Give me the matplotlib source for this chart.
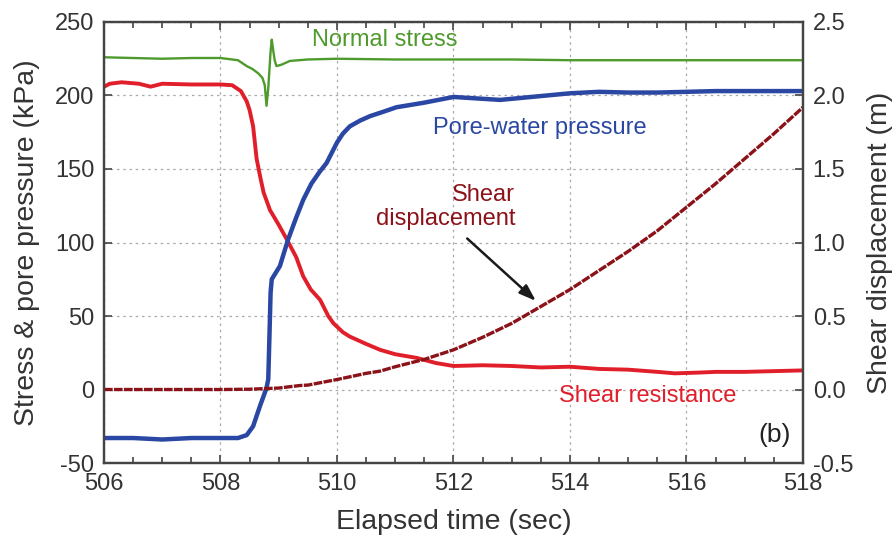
import matplotlib.pyplot as plt
from matplotlib.ticker import MultipleLocator

plt.rcParams['font.family'] = ['Liberation Sans', 'DejaVu Sans']
plt.rcParams['axes.unicode_minus'] = False

# Normal stress (kPa)
t_normal = [506.0, 506.5, 507.0, 507.5, 508.0, 508.3, 508.45, 508.55, 508.65, 508.72,
            508.76, 508.79, 508.82, 508.86, 508.88, 508.9, 508.93, 508.96, 509.05, 509.19,
            509.5, 510.0, 511.0, 512.0, 513.0, 514.0, 515.0, 516.0, 517.0, 518.0]
normal_stress = [226, 225.5, 225, 225.5, 225.5, 224, 220, 218, 215, 212,
                 207, 193, 205, 230, 238, 232, 224, 220, 221, 223.5,
                 224.5, 225, 224.5, 224.5, 224.5, 224, 224, 224, 224, 224]

# Shear resistance (kPa)
t_shear = [506.0, 506.1, 506.3, 506.6, 506.8, 507.0, 507.5, 508.0, 508.2, 508.35,
           508.45, 508.5, 508.56, 508.62, 508.68, 508.74, 508.85, 509.0, 509.14, 509.3,
           509.42, 509.55, 509.71, 509.85, 509.94, 510.1, 510.22, 510.5, 510.74, 511.0,
           511.37, 511.7, 512.0, 512.5, 513.0, 513.5, 514.0, 514.5, 515.0, 515.5,
           515.8, 516.2, 516.5, 517.0, 517.5, 518.0]
shear_resistance = [206, 208, 209, 208, 206, 208, 207.5, 207.5, 207, 203,
                    196, 190, 179, 157, 145, 134, 122, 112, 102, 90,
                    77, 68, 61, 50, 45, 39, 36, 31, 27, 24,
                    21.5, 18, 16, 16.5, 16, 15, 15.5, 14, 13.5, 12,
                    11, 11.5, 12, 12, 12.5, 13]

# Pore-water pressure (kPa)
t_pore = [506.0, 506.5, 507.0, 507.5, 508.0, 508.3, 508.45, 508.56, 508.68, 508.79,
          508.82, 508.84, 508.86, 508.88, 509.02, 509.16, 509.3, 509.42, 509.56, 509.7,
          509.82, 510.0, 510.1, 510.22, 510.4, 510.57, 510.8, 511.02, 511.48, 512.0,
          512.4, 512.8, 513.2, 513.6, 514.0, 514.5, 515.0, 515.5, 516.0, 516.5,
          517.0, 517.5, 518.0]
pore_pressure = [-33, -33, -34, -33, -33, -33, -31, -25, -11, 1,
                 7, 36, 66, 75, 84, 102, 117, 129, 140, 148,
                 154, 168, 174, 179, 183, 186, 189, 192, 195, 199,
                 198, 197, 198.5, 200, 201.5, 202.5, 202, 202, 202.5, 203,
                 203, 203, 203]

# Shear displacement (m)
t_disp = [506.0, 508.0, 508.5, 509.0, 509.36, 509.5, 510.0, 510.5, 510.74, 511.0,
          511.5, 512.0, 512.5, 513.0, 513.5, 514.0, 514.5, 515.0, 515.5, 516.0,
          516.5, 517.0, 517.5, 518.0]
shear_disp = [0, 0, 0.002, 0.01, 0.027, 0.03, 0.068, 0.11, 0.125, 0.155,
              0.205, 0.27, 0.355, 0.45, 0.565, 0.68, 0.81, 0.94, 1.08, 1.24,
              1.40, 1.57, 1.74, 1.92]

green = '#4f9a2c'
blue = '#2a47a3'
red = '#e01f2a'
darkred = '#8c1219'
axcol = '#444444'
txt = '#333333'

fig = plt.figure(figsize=(8.95, 5.43), dpi=100)
ax = fig.add_axes([0.1162, 0.1473, 0.781, 0.8122])
ax2 = ax.twinx()

ax.plot(t_normal, normal_stress, color=green, lw=1.7)
ax.plot(t_shear, shear_resistance, color=red, lw=2.8)
ax.plot(t_pore, pore_pressure, color=blue, lw=3.2)
ax2.plot(t_disp, shear_disp, color=darkred, lw=2.4, linestyle=(0, (2.6, 0.4)),
         dash_capstyle='butt')

ax.set_xlim(506, 518)
ax.set_ylim(-50, 250)
ax2.set_ylim(-0.5, 2.5)
ax.xaxis.set_major_locator(MultipleLocator(2))
ax.xaxis.set_minor_locator(MultipleLocator(0.5))
ax.yaxis.set_major_locator(MultipleLocator(50))
ax2.yaxis.set_major_locator(MultipleLocator(0.5))
ax2.yaxis.set_major_formatter(plt.FormatStrFormatter('%.1f'))

ax.grid(True, which='major', color='#aaaaaa', linestyle=(0, (2, 3)), lw=0.9)
ax.tick_params(which='both', direction='in', top=True, labelsize=17, colors=axcol,
               labelcolor=txt, width=1.2)
ax.tick_params(which='major', length=6, pad=7)
ax.tick_params(which='minor', length=4)
ax2.tick_params(direction='in', labelsize=17, length=6, width=1.2, colors=axcol,
                labelcolor=txt, pad=7)
for a in (ax, ax2):
    for s in a.spines.values():
        s.set_color(axcol)
        s.set_linewidth(1.6)

ax.set_xlabel('Elapsed time (sec)', fontsize=20.5, color=txt, labelpad=10)
ax.set_ylabel('Stress & pore pressure (kPa)', fontsize=20.5, color=txt, labelpad=11)
ax2.set_ylabel('Shear displacement (m)', fontsize=20.5, color=txt, labelpad=10)

ax.text(510.82, 238, 'Normal stress', color=green, fontsize=17, ha='center', va='center')
ax.text(513.49, 178, 'Pore-water pressure', color=blue, fontsize=17, ha='center', va='center')
ax.text(513.06, 124, 'Shear\ndisplacement', color=darkred, fontsize=17, ha='right',
        va='center', multialignment='right', linespacing=1.1)
ax.text(515.34, -4.5, 'Shear resistance', color=red, fontsize=17, ha='center', va='center')
ax.text(517.52, -31, '(b)', color='#222222', fontsize=19, ha='center', va='center')
ax.annotate('', xy=(513.45, 59), xytext=(512.2, 104),
            arrowprops=dict(arrowstyle='-|>,head_length=1.0,head_width=0.35',
                            color='#1a1a1a', lw=1.8))

fig.savefig('out.png', dpi=100)
